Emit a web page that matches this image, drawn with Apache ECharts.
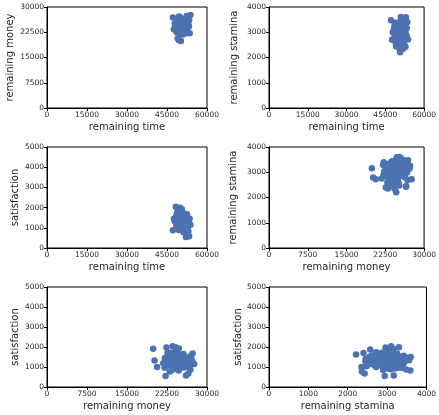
<!DOCTYPE html>
<html>
<head>
<meta charset="utf-8">
<script src="https://cdn.jsdelivr.net/npm/echarts@6/dist/echarts.min.js"></script>
<style>
  html, body { margin: 0; padding: 0; background: #fff; }
  #main { width: 439px; height: 415px; }
</style>
</head>
<body>
<div id="main"></div>
<script>
// one row per observation, split into four columns
var remainingTime = [
  50200, 49500, 49000, 50700, 52100, 53300, 53800, 52400, 47200, 47600,
  52900, 51000, 53500, 48300, 48800, 49900, 51200, 50100, 52800, 53000,
  49800, 50400, 51100, 49300, 50900, 48900, 51500, 50000, 49600, 50600,
  51800, 48700, 50300, 49100, 51300, 50800, 49400, 52000, 50500, 48600,
  51600, 49700, 50200, 51900, 49000, 50700, 52300, 48400, 51400, 50000,
  49200, 50900, 51700, 48800, 50400, 49500, 52600, 50100, 51200, 49900,
  48500, 51000, 50600, 49300, 52200, 50300, 49600, 51500, 50800, 48900,
  51300, 50000, 49800, 52500, 50500, 51100, 49100, 50700, 51900, 49400,
  50200, 51600, 48600, 50900, 52800, 49700, 50400, 51400, 53200, 47900
];
var remainingMoney = [
  19900, 20150, 20650, 24600, 22230, 26050, 27600, 27300, 26900, 23400,
  25500, 25240, 22200, 23550, 22400, 24100, 23000, 22600, 26500, 24700,
  23800, 24300, 24900, 23100, 25400, 22800, 24500, 23600, 24800, 22900,
  25800, 23300, 24050, 25100, 23700, 26200, 24400, 23900, 25600, 24200,
  22500, 26700, 23200, 24700, 25300, 23500, 25000, 24600, 26400, 22300,
  23900, 24250, 25700, 26000, 23000, 24950, 23700, 25200, 24000, 26300,
  22700, 23400, 24700, 25900, 24400, 22100, 27200, 23250, 24850, 24150,
  25450, 26800, 22050, 25150, 23750, 26100, 23550, 25650, 24300, 27000,
  24550, 23100, 25500, 21800, 24800, 23350, 26550, 24050, 24200, 25000
];
var remainingStamina = [
  3160, 2790, 2720, 2210, 2940, 3170, 2720, 3250, 3480, 2700,
  3560, 3600, 3400, 3100, 2960, 3300, 2360, 2400, 2430, 3590,
  3050, 2880, 3120, 2760, 3310, 3190, 2650, 2980, 3380, 2590,
  3020, 2870, 3240, 2540, 3420, 2810, 3090, 2700, 3150, 2930,
  3260, 2990, 2620, 3350, 2860, 3200, 2580, 3060, 3300, 3040,
  2450, 2720, 2910, 3140, 3330, 2680, 3010, 2480, 3450, 2830,
  3230, 2900, 3090, 3360, 2760, 2840, 3150, 2560, 3410, 2640,
  3060, 2690, 3300, 3220, 2790, 3480, 3000, 2920, 2350, 3280,
  2570, 3130, 3380, 2750, 3040, 3180, 2460, 2950, 2870, 3000
];
var satisfaction = [
  1910, 1330, 1000, 1630, 550, 580, 1150, 1680, 880, 1450,
  1340, 1500, 1450, 2040, 1980, 1990, 780, 1700, 680, 820,
  1250, 1400, 1180, 1520, 1090, 1360, 1280, 1620, 960, 1150,
  1430, 1710, 1040, 1310, 1560, 1220, 890, 1370, 1650, 1120,
  1490, 1010, 1580, 1260, 1420, 920, 1330, 1550, 1190, 1080,
  1290, 1740, 970, 1480, 1350, 1140, 1600, 1040, 1270, 1390,
  1180, 850, 1920, 1230, 1060, 1440, 1330, 1520, 1160, 1260,
  1610, 1080, 960, 1380, 1210, 1470, 1700, 1300, 1000, 1560,
  1870, 1100, 1240, 1190, 910, 1340, 1420, 1640, 1250, 1320
];

var axisInfo = {
  'remaining time': { values: remainingTime, max: 60000, interval: 15000 },
  'remaining money': { values: remainingMoney, max: 30000, interval: 7500 },
  'remaining stamina': { values: remainingStamina, max: 4000, interval: 1000 },
  'satisfaction': { values: satisfaction, max: 5000, interval: 1000 }
};

// [x variable, y variable, y title gap]
var panels = [
  ['remaining time', 'remaining money', 32],
  ['remaining time', 'remaining stamina', 30],
  ['remaining time', 'satisfaction', 27],
  ['remaining money', 'remaining stamina', 31],
  ['remaining money', 'satisfaction', 27],
  ['remaining stamina', 'satisfaction', 26]
];

var lefts = [47, 269];
var tops = [7, 147, 287];
var heights = [101, 101, 100];

var grids = [], xAxes = [], yAxes = [], series = [];
var textColor = '#262626';

panels.forEach(function (p, i) {
  var col = i % 2, row = Math.floor(i / 2);
  var xi = axisInfo[p[0]], yi = axisInfo[p[1]];
  grids.push({
    left: lefts[col], top: tops[row], width: 160, height: heights[row],
    show: true, borderColor: '#000', borderWidth: 1, backgroundColor: '#fff'
  });
  var common = {
    gridIndex: i,
    type: 'value',
    min: 0,
    nameLocation: 'middle',
    nameTextStyle: { fontFamily: 'DejaVu Sans', fontSize: 10, color: textColor },
    axisLine: { show: true, onZero: false, lineStyle: { color: '#000', width: 1 } },
    axisTick: { show: true, inside: false, length: 3, lineStyle: { color: '#000' } },
    axisLabel: {
      fontFamily: 'DejaVu Sans', fontSize: 7.5, color: textColor, margin: 3,
      formatter: function (v) { return String(v); }
    },
    splitLine: { show: false }
  };
  xAxes.push(Object.assign({}, common, {
    name: p[0], max: xi.max, interval: xi.interval, nameGap: 14
  }));
  yAxes.push(Object.assign({}, common, {
    name: p[1], max: yi.max, interval: yi.interval, nameGap: p[2]
  }));
  series.push({
    type: 'scatter',
    xAxisIndex: i,
    yAxisIndex: i,
    symbolSize: 6.5,
    itemStyle: { color: '#4c72b0', opacity: 1 },
    data: xi.values.map(function (v, k) { return [v, yi.values[k]]; })
  });
});

var myChart = echarts.init(document.getElementById('main'), null, { renderer: 'canvas' });
var option = {
  animation: false,
  backgroundColor: '#fff',
  grid: grids,
  xAxis: xAxes,
  yAxis: yAxes,
  series: series
};
myChart.setOption(option);
window.addEventListener('resize', myChart.resize);
</script>
</body>
</html>
